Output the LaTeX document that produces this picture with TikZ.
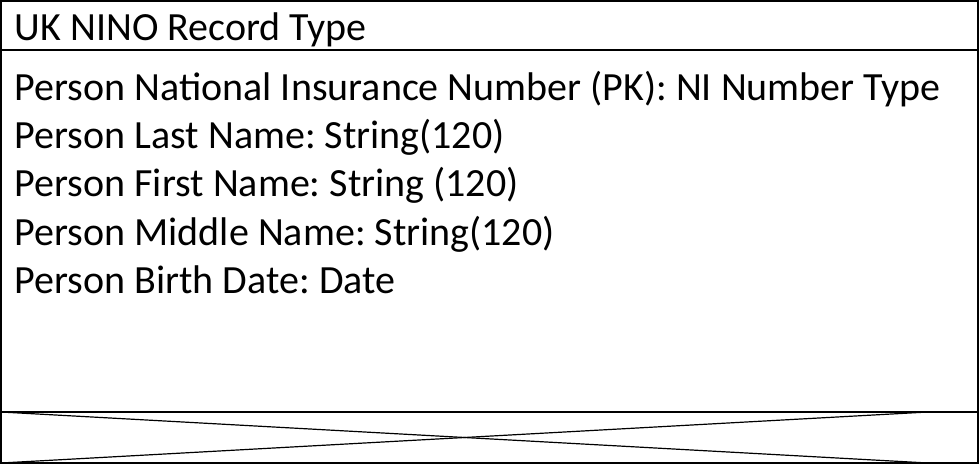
\documentclass[tikz,border=0pt]{standalone}
\usepackage{fontspec}
\setmainfont{Carlito}
\usetikzlibrary{positioning}
\tikzset{attr/.style={anchor=base west,inner sep=0pt,font=\fontsize{40}{48}\selectfont\frenchspacing}}

\begin{document}
\begin{tikzpicture}[x=1pt,y=-1pt,line width=1.6pt]
                  \useasboundingbox (0,0) rectangle (980,465);
                  \draw (1,1) rectangle (978,463);
                  \draw (1,50) -- (978,50);
                  \draw (1,412) -- (978,412);
                  \coordinate (crossA) at (1,412);
                  \coordinate (crossB) at (928,463);
                  \coordinate (crossC) at (1,463);
                  \coordinate (crossD) at (928,412);
                  \draw[line width=1.2pt] (crossA) -- (crossB);
                  \draw[line width=1.2pt] (crossC) -- (crossD);
                  \node[attr] (title) at (14,41) {UK NINO Record Type};
                  \node[attr] (nino) at (14,101) {Person National Insurance Number (PK): NI Number Type};
                  \node[attr,below=48pt of nino.base west,anchor=base west] (last) {Person Last Name: String(120)};
                  \node[attr,below=48pt of last.base west,anchor=base west] (first) {Person First Name: String (120)};
                  \node[attr,below=48pt of first.base west,anchor=base west] (middle) {Person Middle Name: String(120)};
                  \node[attr,below=48pt of middle.base west,anchor=base west] (birth) {Person Birth Date: Date};
\end{tikzpicture}
\end{document}
